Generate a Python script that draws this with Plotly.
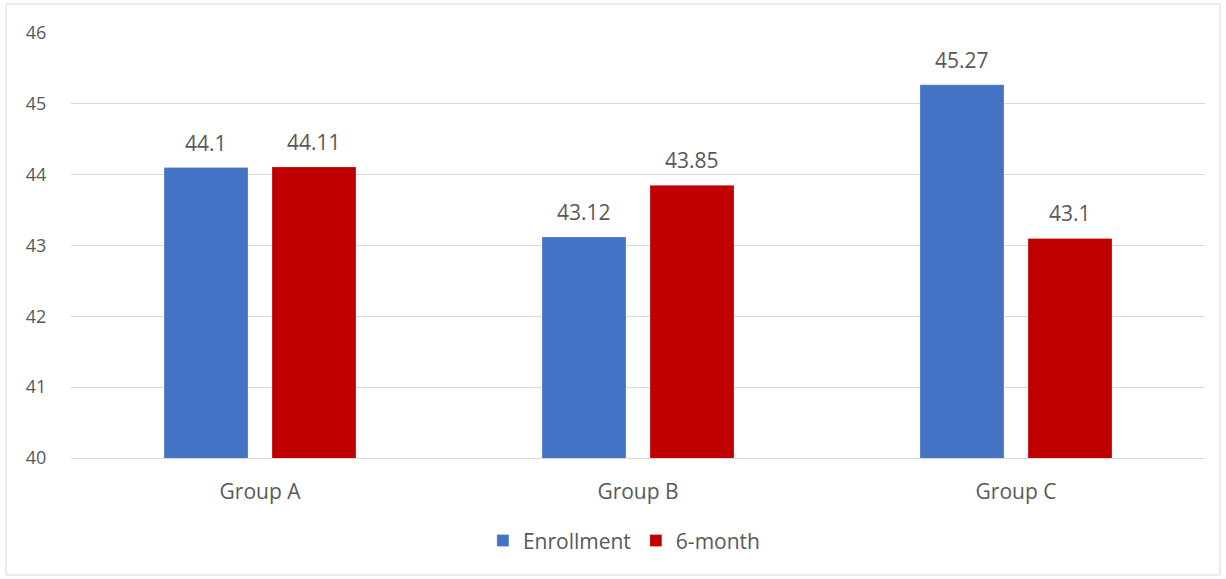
import plotly.graph_objects as go

categories = ["Group A", "Group B", "Group C"]
enrollment = [44.1, 43.12, 45.27]
six_month = [44.11, 43.85, 43.1]
y_ticks = [40, 41, 42, 43, 44, 45, 46]

FONT = "Open Sans"
GRAY = "#595959"
TICK_SIZE = 18
LABEL_SIZE = 21
CAT_SIZE = 21

fig = go.Figure()
fig.add_trace(go.Bar(
    x=categories, y=enrollment, name="Enrollment",
    marker=dict(color="#4472C4", line=dict(color="rgba(255,255,255,0.25)", width=1)),
))
fig.add_trace(go.Bar(
    x=categories, y=six_month, name="6-month",
    marker=dict(color="#C00000", line=dict(color="rgba(255,255,255,0.25)", width=1)),
))

# data labels above bars
for vals, xs in ((enrollment, -54), (six_month, 54)):
    for cat, v in zip(categories, vals):
        fig.add_annotation(x=cat, y=v, text=str(v), showarrow=False,
                           xanchor="center", yanchor="middle", xshift=xs, yshift=25,
                           font=dict(family=FONT, size=LABEL_SIZE, color=GRAY))

fig.update_layout(
    width=1226, height=579,
    barmode="group", bargap=0.4286, bargroupgap=0.222,
    plot_bgcolor="white", paper_bgcolor="white",
    margin=dict(l=71, r=21, t=33, b=121),
    font=dict(family=FONT, size=TICK_SIZE, color=GRAY),
    showlegend=True,
    legend=dict(orientation="h", x=0.488, xanchor="center", y=-0.195, yanchor="middle",
                font=dict(family=FONT, size=CAT_SIZE, color=GRAY), itemwidth=30),
    yaxis=dict(range=[40, 46], tickvals=y_ticks, showgrid=True, gridcolor="#d9d9d9",
               gridwidth=1, zeroline=False, showline=False, ticks="outside",
               ticklen=20, tickcolor="rgba(0,0,0,0)",
               tickfont=dict(family=FONT, size=TICK_SIZE, color=GRAY)),
    xaxis=dict(showline=True, linecolor="#d9d9d9", linewidth=1, ticks="outside",
               ticklen=15, tickcolor="rgba(0,0,0,0)",
               tickfont=dict(family=FONT, size=CAT_SIZE, color=GRAY)),
    shapes=[dict(type="rect", xref="paper", yref="paper",
                 x0=-0.0573, x1=1.0132, y0=-0.2753, y1=1.0682,
                 line=dict(color="#d9d9d9", width=1), fillcolor="rgba(0,0,0,0)")],
)

fig.write_html("out.html", config={"displayModeBar": False},
               post_script="document.body.style.margin='0';")
